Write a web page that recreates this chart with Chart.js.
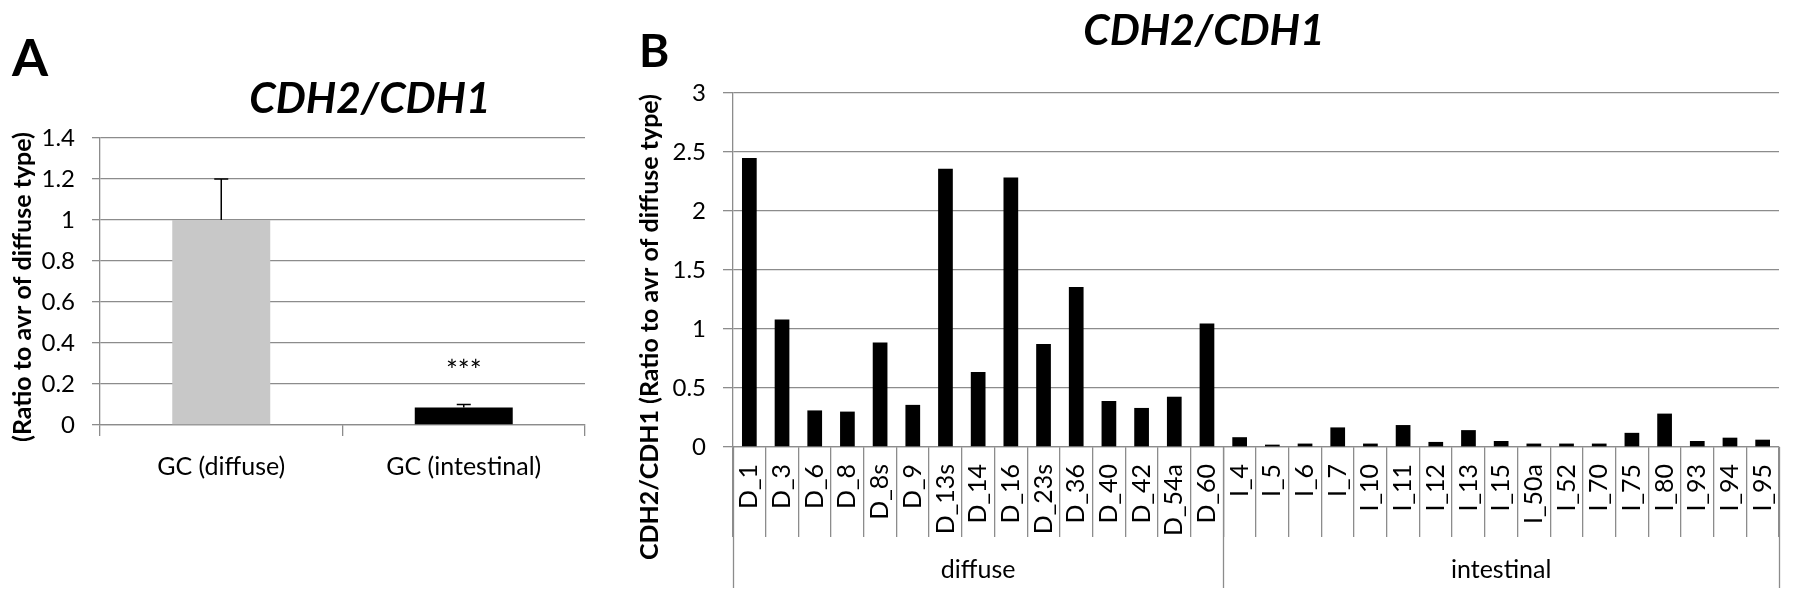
<!DOCTYPE html>
<html>
<head>
<meta charset="utf-8">
<script src="https://cdn.jsdelivr.net/npm/chart.js@4.4.0/dist/chart.umd.min.js"></script>
<style>
  html, body { margin: 0; padding: 0; background: #fff; }
  body { width: 1795px; height: 601px; position: relative; overflow: hidden; }
  #wrapA { position: absolute; left: 0; top: 0; width: 600px; height: 601px; }
  #wrapB { position: absolute; left: 600px; top: 0; width: 1195px; height: 601px; }
</style>
</head>
<body>
<div id="wrapA"><canvas id="chartA"></canvas></div>
<div id="wrapB"><canvas id="chartB"></canvas></div>
<script>
// panel A: group means
const groupLabels = ["GC (diffuse)", "GC (intestinal)"];
const groupMeans = [1.0, 0.085];
const groupErrors = [0.2, 0.015];
const groupColors = ["#c8c8c8", "#000000"];
const yTicksA = [0, 0.2, 0.4, 0.6, 0.8, 1, 1.2, 1.4];

// panel B: single samples
const diffuseSamples = ["D_1", "D_3", "D_6", "D_8", "D_8s", "D_9", "D_13s", "D_14", "D_16", "D_23s", "D_36", "D_40", "D_42", "D_54a", "D_60"];
const diffuseValues = [2.45, 1.08, 0.31, 0.30, 0.885, 0.357, 2.357, 0.636, 2.284, 0.872, 1.356, 0.39, 0.331, 0.426, 1.047];
const intestinalSamples = ["I_4", "I_5", "I_6", "I_7", "I_10", "I_11", "I_12", "I_13", "I_15", "I_50a", "I_52", "I_70", "I_75", "I_80", "I_93", "I_94", "I_95"];
const intestinalValues = [0.083, 0.02, 0.029, 0.166, 0.029, 0.186, 0.043, 0.143, 0.051, 0.029, 0.029, 0.029, 0.12, 0.283, 0.051, 0.079, 0.062];
const typeNames = ["diffuse", "intestinal"];
const yTicksB = [0, 0.5, 1, 1.5, 2, 2.5, 3];

const GRID = "#8c8c8c";
Chart.defaults.font.family = "Lato";
Chart.defaults.color = "#000";

// free text (panel letters, titles, axis names)
const panelText = {
  id: "panelText",
  afterDraw(chart, args, opts) {
    const ctx = chart.ctx;
    (opts.items || []).forEach(t => {
      ctx.save();
      ctx.font = t.font;
      ctx.fillStyle = "#000";
      ctx.textAlign = t.align || "center";
      ctx.textBaseline = t.baseline || "alphabetic";
      ctx.translate(t.x, t.y);
      if (t.rotate) ctx.rotate(t.rotate);
      ctx.fillText(t.text, 0, 0);
      ctx.restore();
    });
  }
};

const errorBars = {
  id: "errorBars",
  afterDatasetsDraw(chart) {
    const ctx = chart.ctx;
    const y = chart.scales.y;
    const meta = chart.getDatasetMeta(0);
    ctx.save();
    ctx.strokeStyle = "#000";
    ctx.lineWidth = 1.5;
    meta.data.forEach((bar, i) => {
      const top = y.getPixelForValue(groupMeans[i] + groupErrors[i]);
      ctx.beginPath();
      ctx.moveTo(bar.x, bar.y);
      ctx.lineTo(bar.x, top);
      ctx.moveTo(bar.x - 7, top);
      ctx.lineTo(bar.x + 7, top);
      ctx.stroke();
    });
    // significance mark over the intestinal bar
    const b = meta.data[1];
    const top = y.getPixelForValue(groupMeans[1] + groupErrors[1]);
    ctx.font = "28px Lato";
    ctx.fillStyle = "#000";
    ctx.textAlign = "center";
    ctx.textBaseline = "middle";
    ctx.fillText("***", b.x, top - 33);
    ctx.restore();
  }
};

// second level of the category axis: diffuse / intestinal
const typeAxis = {
  id: "typeAxis",
  afterDraw(chart) {
    const ctx = chart.ctx;
    const x = chart.scales.x;
    const sizes = [diffuseSamples.length, intestinalSamples.length];
    const y0 = x.top, y1 = x.top + 141;
    ctx.save();
    ctx.strokeStyle = GRID;
    ctx.lineWidth = 1.3;
    let start = 0;
    const edges = [0];
    sizes.forEach(n => { start += n; edges.push(start); });
    edges.forEach(k => {
      const px = Math.round(x.getPixelForValue(k - 0.5)) + 0.5;
      ctx.beginPath();
      ctx.moveTo(px, y0);
      ctx.lineTo(px, y1);
      ctx.stroke();
    });
    ctx.font = "25px Lato";
    ctx.fillStyle = "#000";
    ctx.textAlign = "center";
    ctx.textBaseline = "middle";
    typeNames.forEach((name, i) => {
      const a = x.getPixelForValue(edges[i] - 0.5);
      const b = x.getPixelForValue(edges[i + 1] - 0.5);
      ctx.fillText(name, (a + b) / 2, x.top + 123);
    });
    ctx.restore();
  }
};

new Chart(document.getElementById("chartA"), {
  type: "bar",
  data: {
    labels: groupLabels,
    datasets: [{
      data: groupMeans,
      backgroundColor: groupColors,
      barPercentage: 0.404,
      categoryPercentage: 1
    }]
  },
  options: {
    responsive: true,
    maintainAspectRatio: false,
    animation: false,
    layout: { padding: { top: 138, right: 15, left: 0, bottom: 0 } },
    plugins: {
      legend: { display: false },
      tooltip: { enabled: false },
      panelText: {
        items: [
          { text: "A", x: 12, y: 76, font: "bold 52px Lato", align: "left" },
          { text: "CDH2/CDH1", x: 370, y: 113, font: "italic bold 42.5px Lato" },
          { text: "(Ratio to avr of diffuse type)", x: 23, y: 287, font: "bold 25px Lato", rotate: -Math.PI / 2, baseline: "middle" }
        ]
      }
    },
    scales: {
      x: {
        grid: { drawOnChartArea: false, color: GRID, tickLength: 11, lineWidth: 1.3 },
        border: { color: GRID, width: 1.3 },
        ticks: { font: { size: 25 }, padding: 16 },
        afterFit: s => { s.height = 176; }
      },
      y: {
        min: 0,
        max: 1.4,
        afterBuildTicks: s => { s.ticks = yTicksA.map(v => ({ value: v })); },
        grid: { color: GRID, tickLength: 8, lineWidth: 1.3 },
        border: { color: GRID, width: 1.3 },
        ticks: { font: { size: 24 }, padding: 17, callback: v => String(v) },
        afterFit: s => { s.width = 100; }
      }
    }
  },
  plugins: [errorBars, panelText]
});

new Chart(document.getElementById("chartB"), {
  type: "bar",
  data: {
    labels: diffuseSamples.concat(intestinalSamples),
    datasets: [{
      data: diffuseValues.concat(intestinalValues),
      backgroundColor: "#000",
      barPercentage: 0.45,
      categoryPercentage: 1
    }]
  },
  options: {
    responsive: true,
    maintainAspectRatio: false,
    animation: false,
    layout: { padding: { top: 93, right: 16, left: 0, bottom: 0 } },
    plugins: {
      legend: { display: false },
      tooltip: { enabled: false },
      panelText: {
        items: [
          { text: "B", x: 39, y: 67, font: "bold 46px Lato", align: "left" },
          { text: "CDH2/CDH1", x: 604, y: 45, font: "italic bold 42.5px Lato" },
          { text: "CDH2/CDH1 (Ratio to avr of diffuse type)", x: 50, y: 327, font: "bold 25px Lato", rotate: -Math.PI / 2, baseline: "middle" }
        ]
      }
    },
    scales: {
      x: {
        grid: { drawOnChartArea: false, color: GRID, tickLength: 90, lineWidth: 1.3 },
        border: { color: GRID, width: 1.3 },
        ticks: { font: { size: 25 }, padding: -73, minRotation: 90, maxRotation: 90, autoSkip: false },
        afterFit: s => { s.height = 154; }
      },
      y: {
        min: 0,
        max: 3,
        afterBuildTicks: s => { s.ticks = yTicksB.map(v => ({ value: v })); },
        grid: { color: GRID, tickLength: 10, lineWidth: 1.3 },
        border: { color: GRID, width: 1.3 },
        ticks: { font: { size: 24 }, padding: 17, callback: v => String(v) },
        afterFit: s => { s.width = 133; }
      }
    }
  },
  plugins: [typeAxis, panelText]
});
</script>
</body>
</html>
